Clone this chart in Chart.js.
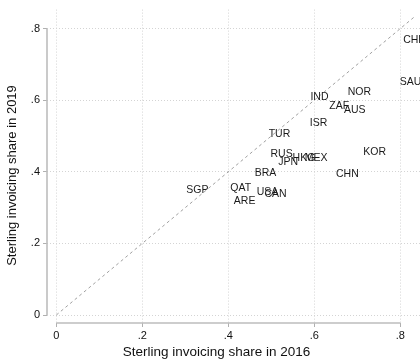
<!DOCTYPE html>
<html>
<head>
<meta charset="utf-8">
<script src="https://cdn.jsdelivr.net/npm/chart.js@4/dist/chart.umd.min.js"></script>
<style>
  html, body { margin: 0; padding: 0; background: #ffffff; overflow: hidden; }
  canvas { display: block; }
</style>
</head>
<body>
<canvas id="c" width="420" height="359"></canvas>
<script>
// Country codes and their sterling invoicing shares
const countries = ['CHE', 'SAU', 'NOR', 'IND', 'ZAF', 'AUS', 'ISR', 'TUR', 'RUS', 'JPN',
                   'HKG', 'MEX', 'KOR', 'BRA', 'CHN', 'SGP', 'QAT', 'USA', 'CAN', 'ARE'];
const share2016 = [0.8325, 0.824, 0.705, 0.612, 0.658, 0.694, 0.610, 0.519, 0.524, 0.539,
                   0.576, 0.604, 0.7405, 0.4865, 0.677, 0.328, 0.429, 0.491, 0.510, 0.438];
const share2019 = [0.768, 0.651, 0.623, 0.611, 0.584, 0.575, 0.537, 0.506, 0.450, 0.428,
                   0.4385, 0.4385, 0.457, 0.397, 0.395, 0.351, 0.355, 0.345, 0.339, 0.319];
const tickValues = [0, 0.2, 0.4, 0.6, 0.8];
const tickLabels = ['0', '.2', '.4', '.6', '.8'];

const points = countries.map((c, i) => ({ x: share2016[i], y: share2019[i], code: c }));
const diagMax = Math.max(...share2016, ...share2019);

const FONT = "'Liberation Sans', Arial, Helvetica, sans-serif";
Chart.defaults.font.family = FONT;
Chart.defaults.color = '#111111';

// Country codes written at each point
const codeLabels = {
  id: 'codeLabels',
  afterDatasetsDraw(chart) {
    const ctx = chart.ctx;
    const meta = chart.getDatasetMeta(1);
    ctx.save();
    ctx.beginPath();
    ctx.rect(chart.chartArea.left, 0, chart.width, chart.height);
    ctx.clip();
    ctx.font = '10.5px ' + FONT;
    ctx.fillStyle = '#1a1a1a';
    ctx.textAlign = 'center';
    ctx.textBaseline = 'middle';
    meta.data.forEach((el, i) => {
      ctx.fillText(points[i].code, el.x, el.y + 0.5);
    });
    ctx.restore();
  }
};

// Axis lines spanning the labelled range, plus the axis titles
const axisFrame = {
  id: 'axisFrame',
  afterDraw(chart) {
    const ctx = chart.ctx;
    const xs = chart.scales.x, ys = chart.scales.y;
    const a = chart.chartArea;
    ctx.save();
    ctx.strokeStyle = '#bdbdbd';
    ctx.lineWidth = 1.6;
    ctx.beginPath();
    ctx.moveTo(a.left, ys.getPixelForValue(0));
    ctx.lineTo(a.left, ys.getPixelForValue(0.8));
    ctx.moveTo(xs.getPixelForValue(0), a.bottom);
    ctx.lineTo(xs.getPixelForValue(0.8), a.bottom);
    ctx.stroke();

    ctx.fillStyle = '#111111';
    ctx.textAlign = 'center';
    ctx.textBaseline = 'middle';
    ctx.font = '13.5px ' + FONT;
    ctx.fillText('Sterling invoicing share in 2016', 216.5, 352.5);
    ctx.translate(12.8, 175.5);
    ctx.rotate(-Math.PI / 2);
    ctx.font = '13px ' + FONT;
    ctx.fillText('Sterling invoicing share in 2019', 0, 0);
    ctx.restore();
  }
};

const fixedTicks = (scale) => {
  scale.ticks = tickValues.map(v => ({ value: v }));
};
const tickText = (v) => {
  const i = tickValues.findIndex(t => Math.abs(t - v) < 1e-9);
  return i >= 0 ? tickLabels[i] : '';
};

const gridCommon = {
  color: '#d4d4d4',
  lineWidth: 1,
  drawTicks: true,
  tickLength: 4,
  tickColor: '#b0b0b0',
  tickWidth: 1,
  tickBorderDash: []
};

new Chart(document.getElementById('c'), {
  data: {
    datasets: [
      {
        type: 'line',
        data: [{ x: 0, y: 0 }, { x: diagMax, y: diagMax }],
        borderColor: '#a0a0a0',
        borderWidth: 1,
        borderDash: [3, 3],
        pointRadius: 0,
        fill: false
      },
      {
        type: 'scatter',
        data: points,
        pointRadius: 0,
        pointHoverRadius: 0
      }
    ]
  },
  options: {
    responsive: false,
    animation: false,
    devicePixelRatio: 1,
    layout: { padding: { top: 7, left: 0, right: 0, bottom: 0 } },
    plugins: {
      legend: { display: false },
      tooltip: { enabled: false }
    },
    scales: {
      x: {
        type: 'linear',
        min: -0.0216,
        max: 0.8458,
        afterBuildTicks: fixedTicks,
        afterFit: (s) => { s.height = 36; },
        grid: gridCommon,
        border: { display: false, dash: [1, 2] },
        ticks: {
          callback: tickText,
          font: { size: 11 },
          padding: 2,
          maxRotation: 0,
          autoSkip: false
        }
      },
      y: {
        type: 'linear',
        min: -0.0222,
        max: 0.853,
        afterBuildTicks: fixedTicks,
        afterFit: (s) => { s.width = 47; },
        grid: gridCommon,
        border: { display: false, dash: [1, 2] },
        ticks: {
          callback: tickText,
          font: { size: 11 },
          padding: 3,
          autoSkip: false
        }
      }
    }
  },
  plugins: [codeLabels, axisFrame]
});
</script>
</body>
</html>
